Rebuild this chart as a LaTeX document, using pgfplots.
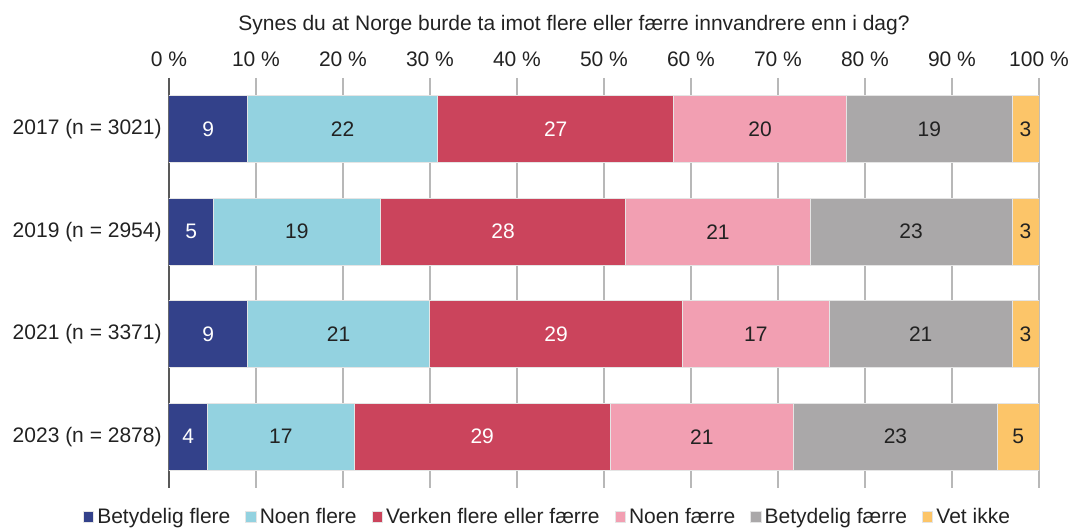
\documentclass[border=0pt]{standalone}
\usepackage{fontspec}
\setmainfont{Liberation Sans}
\usepackage{pgfplots}
\pgfplotsset{compat=1.18}
\definecolor{c1}{HTML}{33418A}
\definecolor{c2}{HTML}{93D2E0}
\definecolor{c3}{HTML}{CB445C}
\definecolor{c4}{HTML}{F29FB2}
\definecolor{c5}{HTML}{AAA8A9}
\definecolor{c6}{HTML}{FCC569}
\definecolor{txt}{HTML}{222222}
\begin{document}
\fontsize{10.5}{12.6}\selectfont
\begin{tikzpicture}
\begin{axis}[name=ax,
  scale only axis, width=435pt, height=205pt,
  xbar stacked, bar width=33.5pt,
  xmin=0, xmax=100, ymin=-0.5, ymax=3.5, y dir=reverse,
  axis x line*=top, axis y line*=left,
  x axis line style={draw=none},
  y axis line style={draw=black!65, -, line width=0.7pt},
  xtick={0,10,...,100},
  xticklabels={0 \%,10 \%,20 \%,30 \%,40 \%,50 \%,60 \%,70 \%,80 \%,90 \%,100 \%},
  ytick={0,1,2,3},
  yticklabels={2017 (n = 3021),2019 (n = 2954),2021 (n = 3371),2023 (n = 2878)},
  major tick length=0pt,
  xmajorgrids, major grid style={draw=black!28, line width=0.7pt},
  ticklabel style={text=txt, font=\fontsize{10.5}{12.6}\selectfont},
  xticklabel style={anchor=base, yshift=5.5pt},
  /pgf/number format/assume math mode=true,
  title={Synes du at Norge burde ta imot flere eller færre innvandrere enn i dag?},
  title style={at={(0.5,1)}, anchor=base, xshift=-15pt, yshift=17.5pt, text=txt, font=\fontsize{10.5}{12.6}\selectfont},
  point meta=rawx,
  nodes near coords={\pgfmathprintnumber[fixed,precision=0,assume math mode=true]{\pgfplotspointmeta}},
  every node near coord/.append style={anchor=center, text=txt, font=\fontsize{10.5}{12.6}\selectfont},
  every axis plot/.append style={draw=white!80!gray, line width=0.5pt},
  legend columns=6,
  legend style={at={(0.4356,-0.0707)}, anchor=center, draw=none, fill=none,
    font=\fontsize{10.5}{12.6}\selectfont, text=txt,
    /tikz/every even column/.append style={column sep=6pt},
    nodes={inner xsep=1.5pt}},
  legend image code/.code={\fill[#1] (0pt,-2.6pt) rectangle (5.2pt,2.6pt);},
]
\addplot[fill=c1, every node near coord/.append style={text=white}] coordinates {(9.0,0) (5.1,1) (9.0,2) (4.4,3)};
\addplot[fill=c2] coordinates {(21.9,0) (19.2,1) (21.0,2) (16.9,3)};
\addplot[fill=c3, every node near coord/.append style={text=white}] coordinates {(27.1,0) (28.2,1) (29.0,2) (29.4,3)};
\addplot[fill=c4] coordinates {(19.9,0) (21.2,1) (16.9,2) (21.1,3)};
\addplot[fill=c5] coordinates {(19.0,0) (23.2,1) (21.0,2) (23.4,3)};
\addplot[fill=c6] coordinates {(3.1,0) (3.1,1) (3.1,2) (4.8,3)};
\legend{Betydelig flere,Noen flere,Verken flere eller færre,Noen færre,Betydelig færre,Vet ikke}
\end{axis}
\pgfresetboundingbox
\path (ax.south west) ++(-84.5pt,-20pt) rectangle ++(536.5pt,264pt);
\end{tikzpicture}
\end{document}
